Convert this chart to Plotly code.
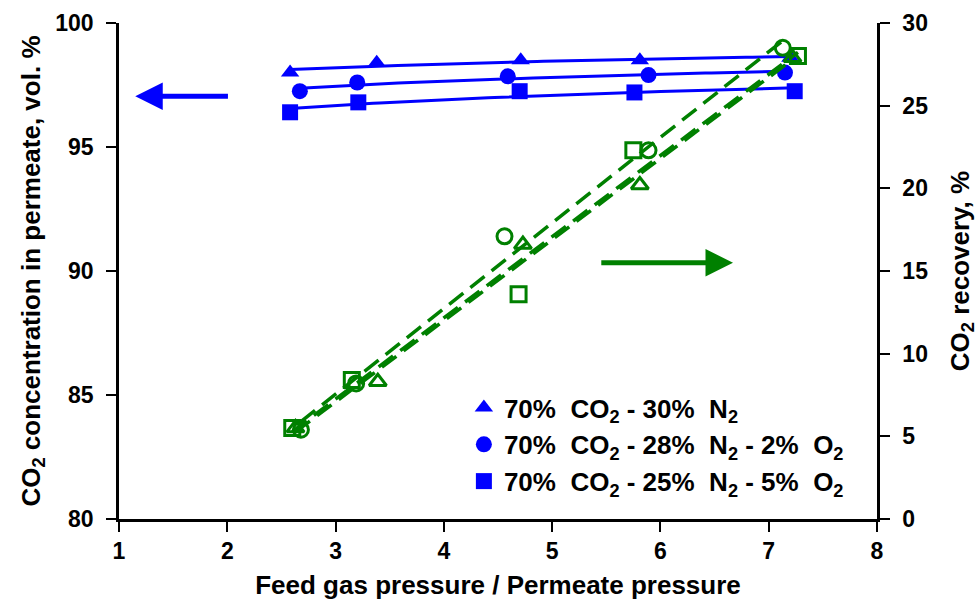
import numpy as np
import plotly.graph_objects as go

# CO2 concentration in permeate (vol. %), left axis
tri_x = [2.58, 3.38, 4.71, 5.81, 7.20]
tri_conc = [98.0, 98.4, 98.5, 98.5, 98.6]
cir_x = [2.67, 3.20, 4.59, 5.89, 7.15]
cir_conc = [97.25, 97.6, 97.85, 97.9, 98.0]
sq_x = [2.58, 3.21, 4.70, 5.76, 7.24]
sq_conc = [96.4, 96.8, 97.25, 97.2, 97.25]

# CO2 recovery (%), right axis
tri_rx = [2.63, 3.39, 4.73, 5.81, 7.22]
tri_rec = [5.5, 8.3, 16.6, 20.2, 27.9]
cir_rx = [2.68, 3.19, 4.56, 5.89, 7.13]
cir_rec = [5.4, 8.2, 17.1, 22.3, 28.5]
sq_rx = [2.60, 3.15, 4.69, 5.75, 7.27]
sq_rec = [5.5, 8.4, 13.6, 22.3, 28.0]

labels = [
    "70%\u00a0 CO<sub>2</sub> - 30%\u00a0 N<sub>2</sub>",
    "70%\u00a0 CO<sub>2</sub> - 28%\u00a0 N<sub>2</sub> - 2%\u00a0 O<sub>2</sub>",
    "70%\u00a0 CO<sub>2</sub> - 25%\u00a0 N<sub>2</sub> - 5%\u00a0 O<sub>2</sub>",
]
x_ticks = [1, 2, 3, 4, 5, 6, 7, 8]
left_ticks = [80, 85, 90, 95, 100]
right_ticks = [0, 5, 10, 15, 20, 25, 30]

BLUE = "#0000FF"
GREEN = "#008000"
FONT = "Liberation Sans"

fig = go.Figure()


def log_trend(xs, ys):
    a, b = np.polyfit(np.log(xs), ys, 1)
    xx = np.linspace(min(xs), max(xs), 80)
    return xx, a * np.log(xx) + b


def lin_trend(xs, ys):
    a, b = np.polyfit(xs, ys, 1)
    xx = np.array([min(xs), max(xs)])
    return xx, a * xx + b


# logarithmic trend curves for concentration
for xs, ys in [(tri_x, tri_conc), (cir_x, cir_conc), (sq_x, sq_conc)]:
    xx, yy = log_trend(np.array(xs), np.array(ys))
    fig.add_trace(go.Scatter(x=xx, y=yy, mode="lines", showlegend=False,
                             line=dict(color=BLUE, width=3), hoverinfo="skip"))

# linear dashed trends for recovery
for xs, ys in [(tri_rx, tri_rec), (cir_rx, cir_rec), (sq_rx, sq_rec)]:
    xx, yy = lin_trend(np.array(xs), np.array(ys))
    fig.add_trace(go.Scatter(x=xx, y=yy, yaxis="y2", mode="lines", showlegend=False,
                             line=dict(color=GREEN, width=3.5, dash="18px,9px"),
                             hoverinfo="skip"))

# recovery markers (open)
for xs, ys, sym in [(tri_rx, tri_rec, "triangle-up-open"),
                    (cir_rx, cir_rec, "circle-open"),
                    (sq_rx, sq_rec, "square-open")]:
    fig.add_trace(go.Scatter(x=xs, y=ys, yaxis="y2", mode="markers", showlegend=False,
                             marker=dict(symbol=sym, size=15, color=GREEN,
                                         line=dict(color=GREEN, width=3))))

# concentration markers (filled)
for xs, ys, sym, name in [(tri_x, tri_conc, "triangle-up", labels[0]),
                          (cir_x, cir_conc, "circle", labels[1]),
                          (sq_x, sq_conc, "square", labels[2])]:
    fig.add_trace(go.Scatter(x=xs, y=ys, mode="markers", name=name,
                             marker=dict(symbol=sym, size=16, color=BLUE)))

axis_common = dict(showline=True, linecolor="black", linewidth=2.5, ticks="outside",
                   ticklen=10, tickwidth=2, tickcolor="black", showgrid=False, zeroline=False,
                   automargin=False,
                   tickfont=dict(family=FONT, size=23, color="black", weight="bold"),
                   title_font=dict(family=FONT, size=26, color="black", weight="bold"))

fig.update_layout(
    width=979, height=600,
    margin=dict(l=119, r=102, t=23, b=81),
    plot_bgcolor="white", paper_bgcolor="white",
    font=dict(family=FONT, color="black"),
    xaxis=dict(range=[1, 8], tickvals=x_ticks,
               title=dict(text="Feed gas pressure / Permeate pressure", standoff=14),
               **axis_common),
    yaxis=dict(range=[80, 100], tickvals=left_ticks, ticklabelstandoff=8,
               title=dict(text="CO<sub>2</sub> concentration in permeate, vol. %", standoff=8),
               **axis_common),
    yaxis2=dict(range=[0, 30], tickvals=right_ticks, overlaying="y", side="right",
                ticklabelstandoff=8,
                title=dict(text="CO<sub>2</sub> recovery, %", standoff=24),
                **axis_common),
    legend=dict(x=0.455, y=0.028, xanchor="left", yanchor="bottom",
                bgcolor="rgba(0,0,0,0)", itemwidth=30, tracegroupgap=0,
                font=dict(family=FONT, size=26, color="black", weight="bold")),
    showlegend=True,
)

# direction arrows
fig.add_annotation(x=1.15, y=97.05, ax=2.02, ay=97.05, xref="x", yref="y",
                   axref="x", ayref="y", text="", showarrow=True,
                   arrowhead=2, arrowsize=1.1, arrowwidth=5, arrowcolor=BLUE)
fig.add_annotation(x=6.67, y=15.5, ax=5.44, ay=15.5, xref="x", yref="y2",
                   axref="x", ayref="y2", text="", showarrow=True,
                   arrowhead=2, arrowsize=1.1, arrowwidth=5, arrowcolor=GREEN)

fig.write_html("out.html")
